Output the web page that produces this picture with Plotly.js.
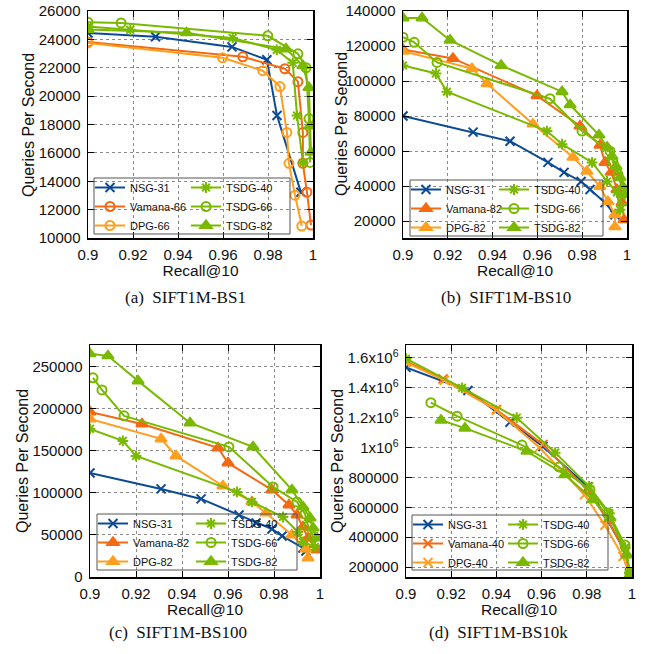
<!DOCTYPE html>
<html><head><meta charset="utf-8">
<script src="https://cdn.plot.ly/plotly-3.0.1.min.js"></script>
<style>html,body{margin:0;padding:0;background:#fff}#chart{width:652px;height:654px}</style>
</head><body><div id="chart"></div>
<script>
// ---------- tick labels ----------
const recallTicks = [0.9, 0.92, 0.94, 0.96, 0.98, 1];
const recallTickText = ['0.9', '0.92', '0.94', '0.96', '0.98', '1'];
const qpsTicksA = [10000, 12000, 14000, 16000, 18000, 20000, 22000, 24000, 26000];
const qpsTicksB = [20000, 40000, 60000, 80000, 100000, 120000, 140000];
const qpsTicksC = [0, 50000, 100000, 150000, 200000, 250000];
const qpsTicksD = [200000, 400000, 600000, 800000, 1000000, 1200000, 1400000, 1600000];
const qpsTickTextD = ['200000', '400000', '600000', '800000', '1x10<sup>6</sup>', '1.2x10<sup>6</sup>', '1.4x10<sup>6</sup>', '1.6x10<sup>6</sup>'];
const captions = ['(a)\u00a0\u00a0SIFT1M-BS1', '(b)\u00a0\u00a0SIFT1M-BS10', '(c)\u00a0\u00a0SIFT1M-BS100', '(d)\u00a0\u00a0SIFT1M-BS10k'];
const xTitle = 'Recall@10';
const yTitle = 'Queries Per Second';

// ---------- (a) SIFT1M-BS1 ----------
const a_nsg_x = [0.9, 0.930, 0.964, 0.9795, 0.984, 0.9946];
const a_nsg_y = [24450, 24180, 23470, 22560, 18630, 13230];
const a_vam_x = [0.9, 0.9688, 0.9875, 0.9933, 0.9955, 0.9955, 0.9973, 0.9991];
const a_vam_y = [23820, 22770, 21930, 21020, 17440, 15260, 13230, 10910];
const a_dpg_x = [0.9, 0.9598, 0.9777, 0.9853, 0.9884, 0.9893, 0.992, 0.995];
const a_dpg_y = [23750, 22700, 21790, 20670, 17440, 15260, 13020, 10840];
const a_t40_x = [0.9, 0.9188, 0.9643, 0.9839, 0.991, 0.9929, 0.9955];
const a_t40_y = [24900, 24670, 24100, 23260, 22350, 18630, 15300];
const a_t66_x = [0.9, 0.9147, 0.9799, 0.9933, 0.9969, 0.9982, 0.9987];
const a_t66_y = [25200, 25160, 24250, 22980, 22000, 18420, 15330];
const a_t82_x = [0.9, 0.9438, 0.988, 0.9955, 0.9982, 0.9987, 0.9991];
const a_t82_y = [24700, 24460, 23330, 22140, 20600, 17900, 16040];

// ---------- (b) SIFT1M-BS10 ----------
const b_nsg_x = [0.9, 0.9313, 0.9478, 0.9647, 0.9719, 0.9795, 0.9835, 0.9902, 0.9946];
const b_nsg_y = [80000, 70800, 65600, 53500, 47800, 42600, 38000, 30500, 23600];
const b_vam_x = [0.9, 0.9223, 0.9598, 0.979, 0.9879, 0.9902, 0.9929, 0.9955, 0.9978, 0.9987];
const b_vam_y = [118000, 112900, 91600, 74300, 63300, 53500, 47800, 38000, 30500, 20700];
const b_dpg_x = [0.9, 0.9308, 0.9375, 0.958, 0.9759, 0.9821, 0.9879, 0.9915, 0.9946, 0.9946];
const b_dpg_y = [117000, 107100, 98500, 75400, 56400, 48400, 39700, 31100, 23600, 16700];
const b_t40_x = [0.9, 0.9147, 0.9196, 0.9643, 0.971, 0.9844, 0.9911, 0.9955, 0.9969];
const b_t40_y = [108900, 104300, 93900, 71400, 63900, 53500, 42600, 36300, 26500];
const b_t66_x = [0.9, 0.905, 0.9152, 0.9656, 0.9799, 0.9924, 0.9938, 0.996, 0.9982, 0.9991];
const b_t66_y = [125000, 122100, 110600, 89900, 71400, 59900, 53500, 46600, 36800, 32200];
const b_t82_x = [0.9, 0.9085, 0.921, 0.9438, 0.971, 0.9746, 0.9875, 0.9911, 0.9933, 0.9951, 0.9969, 0.9982, 0.9987];
const b_t82_y = [136000, 136000, 123300, 108900, 93900, 86400, 69100, 62200, 57000, 51200, 44900, 39700, 35100];

// ---------- (c) SIFT1M-BS100 ----------
const c_nsg_x = [0.9, 0.9309, 0.9483, 0.9648, 0.9722, 0.9791, 0.9835, 0.9926, 0.9939];
const c_nsg_y = [123800, 104800, 92900, 73800, 64300, 57100, 48800, 34500, 31000];
const c_vam_x = [0.9, 0.9226, 0.9557, 0.96, 0.9791, 0.9865, 0.99, 0.9926, 0.9948, 0.9987];
const c_vam_y = [196400, 182100, 153600, 135700, 103600, 85700, 73800, 59500, 46400, 32100];
const c_dpg_x = [0.9, 0.9309, 0.9374, 0.9578, 0.9704, 0.9765, 0.9878, 0.9939, 0.9948];
const c_dpg_y = [188100, 164300, 144000, 108300, 89300, 76200, 50000, 33300, 22600];
const c_t40_x = [0.9, 0.9143, 0.92, 0.9639, 0.9704, 0.9839, 0.9904, 0.9926, 0.9978];
const c_t40_y = [176200, 161900, 144000, 101200, 89300, 71400, 53600, 41700, 35700];
const c_t66_x = [0.9013, 0.9052, 0.9148, 0.9604, 0.9796, 0.99, 0.9935, 0.9948, 0.997, 0.9987];
const c_t66_y = [236900, 222600, 191700, 154800, 107100, 89300, 75000, 60700, 47600, 41700];
const c_t82_x = [0.9, 0.9078, 0.9209, 0.9435, 0.9709, 0.9878, 0.9926, 0.9957, 0.997, 0.9987];
const c_t82_y = [265500, 263100, 233300, 183300, 154800, 103600, 83300, 70200, 58300, 46400];

// ---------- (d) SIFT1M-BS10k ----------
const d_nsg_x = [0.9, 0.9274, 0.946, 0.9606, 0.9805, 0.989, 0.997, 0.999];
const d_nsg_y = [1537000, 1382000, 1170000, 1007000, 737000, 520000, 300000, 160000];
const d_vam_x = [0.9, 0.9164, 0.94, 0.9606, 0.98, 0.989, 0.997, 0.999];
const d_vam_y = [1577000, 1460000, 1255000, 1020000, 720000, 520000, 300000, 150000];
const d_dpg_x = [0.9, 0.917, 0.94, 0.959, 0.979, 0.988, 0.996, 0.999];
const d_dpg_y = [1570000, 1450000, 1250000, 1000000, 684000, 480000, 270000, 140000];
const d_t40_x = [0.9, 0.9248, 0.949, 0.966, 0.981, 0.99, 0.997, 0.999];
const d_t40_y = [1595000, 1400000, 1200000, 966000, 740000, 560000, 330000, 160000];
const d_t66_x = [0.911, 0.9226, 0.9513, 0.9677, 0.9814, 0.9894, 0.9969, 0.999];
const d_t66_y = [1301000, 1210000, 1017000, 870000, 717000, 562000, 348000, 160000];
const d_t82_x = [0.9155, 0.9261, 0.9535, 0.9704, 0.9827, 0.9903, 0.9978, 0.9991];
const d_t82_y = [1183000, 1130000, 975000, 818000, 650000, 529000, 280000, 146000];

// ---------- styles ----------
const C_NSG = '#0c4a94', C_VAM = '#f36a12', C_DPG = '#ff9e1f', C_TSDG = '#79b900';
const FONT = 'Liberation Sans, Arial, sans-serif';

function tr(x, y, name, color, symbol, ax, leg) {
  return {
    type: 'scatter', mode: 'lines+markers', x: x, y: y, name: name,
    xaxis: 'x' + (ax === 1 ? '' : ax), yaxis: 'y' + (ax === 1 ? '' : ax),
    legend: leg,
    line: {color: color, width: 2},
    marker: {symbol: symbol, size: symbol.indexOf('triangle') === 0 ? 10 : 9,
             color: color, line: {color: color, width: 2}},
    cliponaxis: true
  };
}

const data = [
  tr(a_nsg_x, a_nsg_y, 'NSG-31', C_NSG, 'x-thin', 1, 'legend'),
  tr(a_vam_x, a_vam_y, 'Vamana-66', C_VAM, 'circle-open', 1, 'legend'),
  tr(a_dpg_x, a_dpg_y, 'DPG-66', C_DPG, 'circle-open', 1, 'legend'),
  tr(a_t40_x, a_t40_y, 'TSDG-40', C_TSDG, 'asterisk', 1, 'legend2'),
  tr(a_t66_x, a_t66_y, 'TSDG-66', C_TSDG, 'circle-open', 1, 'legend2'),
  tr(a_t82_x, a_t82_y, 'TSDG-82', C_TSDG, 'triangle-up', 1, 'legend2'),

  tr(b_nsg_x, b_nsg_y, 'NSG-31', C_NSG, 'x-thin', 2, 'legend3'),
  tr(b_vam_x, b_vam_y, 'Vamana-82', C_VAM, 'triangle-up', 2, 'legend3'),
  tr(b_dpg_x, b_dpg_y, 'DPG-82', C_DPG, 'triangle-up', 2, 'legend3'),
  tr(b_t40_x, b_t40_y, 'TSDG-40', C_TSDG, 'asterisk', 2, 'legend4'),
  tr(b_t66_x, b_t66_y, 'TSDG-66', C_TSDG, 'circle-open', 2, 'legend4'),
  tr(b_t82_x, b_t82_y, 'TSDG-82', C_TSDG, 'triangle-up', 2, 'legend4'),

  tr(c_nsg_x, c_nsg_y, 'NSG-31', C_NSG, 'x-thin', 3, 'legend5'),
  tr(c_vam_x, c_vam_y, 'Vamana-82', C_VAM, 'triangle-up', 3, 'legend5'),
  tr(c_dpg_x, c_dpg_y, 'DPG-82', C_DPG, 'triangle-up', 3, 'legend5'),
  tr(c_t40_x, c_t40_y, 'TSDG-40', C_TSDG, 'asterisk', 3, 'legend6'),
  tr(c_t66_x, c_t66_y, 'TSDG-66', C_TSDG, 'circle-open', 3, 'legend6'),
  tr(c_t82_x, c_t82_y, 'TSDG-82', C_TSDG, 'triangle-up', 3, 'legend6'),

  tr(d_nsg_x, d_nsg_y, 'NSG-31', C_NSG, 'x-thin', 4, 'legend7'),
  tr(d_vam_x, d_vam_y, 'Vamana-40', C_VAM, 'x-thin', 4, 'legend7'),
  tr(d_dpg_x, d_dpg_y, 'DPG-40', C_DPG, 'x-thin', 4, 'legend7'),
  tr(d_t40_x, d_t40_y, 'TSDG-40', C_TSDG, 'asterisk', 4, 'legend8'),
  tr(d_t66_x, d_t66_y, 'TSDG-66', C_TSDG, 'circle-open', 4, 'legend8'),
  tr(d_t82_x, d_t82_y, 'TSDG-82', C_TSDG, 'triangle-up', 4, 'legend8')
];

const W = 652, H = 654;
const px = v => v / W, py = v => 1 - v / H;

function xax(l, r, anchor) {
  return {
    domain: [px(l), px(r)], range: [0.9, 1.0], anchor: anchor,
    tickmode: 'array', tickvals: recallTicks, ticktext: recallTickText,
    ticks: 'inside', ticklen: 6, tickcolor: '#000', tickwidth: 1,
    showline: true, linecolor: '#000', linewidth: 1.5, mirror: 'ticks',
    showgrid: true, gridcolor: '#8a8a8a', griddash: 'dot', gridwidth: 1,
    zeroline: false, ticklabelstandoff: 2,
    tickfont: {family: FONT, size: 15, color: '#111'},
    title: {text: xTitle, font: {family: FONT, size: 15.5, color: '#111'}, standoff: 0}
  };
}
function yax(t, b, anchor, range, ticks, ticktext) {
  return {
    domain: [py(b), py(t)], range: range, anchor: anchor,
    tickmode: 'array', tickvals: ticks, ticktext: ticktext || ticks.map(String),
    ticks: 'inside', ticklen: 6, tickcolor: '#000', tickwidth: 1,
    showline: true, linecolor: '#000', linewidth: 1.5, mirror: 'ticks',
    showgrid: true, gridcolor: '#8a8a8a', griddash: 'dot', gridwidth: 1,
    zeroline: false, ticklabelstandoff: 3,
    tickfont: {family: FONT, size: 15, color: '#111'},
    title: {text: ''}
  };
}
function leg(x, y) {
  return {x: px(x), y: py(y), xanchor: 'left', yanchor: 'top', orientation: 'v',
          bgcolor: 'rgba(0,0,0,0)', borderwidth: 0, itemwidth: 30, tracegroupgap: 0,
          font: {family: FONT, size: 11, color: '#111'}};
}
function box(x0, x1, y0, y1) {
  return {type: 'rect', xref: 'paper', yref: 'paper', x0: px(x0), x1: px(x1), y0: py(y1), y1: py(y0),
          line: {color: '#555', width: 1}, fillcolor: 'rgba(0,0,0,0)'};
}
function cap(text, x, y) {
  return {text: text, xref: 'paper', yref: 'paper', x: px(x), y: py(y), xanchor: 'center', yanchor: 'middle',
          showarrow: false, font: {family: 'Liberation Serif, Times New Roman, serif', size: 17, color: '#111'}};
}
function ytitle(x, y) {
  return {text: yTitle, xref: 'paper', yref: 'paper', x: px(x), y: py(y), xanchor: 'center', yanchor: 'middle',
          textangle: -90, showarrow: false, font: {family: FONT, size: 16, color: '#111'}};
}

const layout = {
  width: W, height: H, margin: {l: 0, r: 0, t: 0, b: 0},
  paper_bgcolor: '#fff', plot_bgcolor: '#fff', showlegend: true,
  xaxis: xax(88, 313, 'y'),
  yaxis: yax(11, 238, 'x', [10000, 26000], qpsTicksA),
  xaxis2: xax(403, 627, 'y2'),
  yaxis2: yax(11, 238, 'x2', [10300, 140000], qpsTicksB),
  xaxis3: xax(90, 320, 'y3'),
  yaxis3: yax(345, 577, 'x3', [0, 276000], qpsTicksC),
  xaxis4: xax(406, 632, 'y4'),
  yaxis4: yax(345, 577, 'x4', [133000, 1687000], qpsTicksD, qpsTickTextD),
  legend: leg(90, 173), legend2: leg(186, 173),
  legend3: leg(406, 175), legend4: leg(494, 175),
  legend5: leg(93, 509), legend6: leg(191, 509),
  legend7: leg(408, 510), legend8: leg(503, 510),
  shapes: [box(94, 290, 178, 234), box(410, 603, 180, 236), box(97, 297, 514, 570), box(412, 608, 515, 570)],
  annotations: [
    cap(captions[0], 185, 297), cap(captions[1], 506, 297), cap(captions[2], 178, 632), cap(captions[3], 498, 632),
    ytitle(28, 125), ytitle(341, 124), ytitle(22, 461), ytitle(337, 461)
  ]
};

Plotly.newPlot('chart', data, layout, {staticPlot: true, displayModeBar: false});
</script>
</body></html>
